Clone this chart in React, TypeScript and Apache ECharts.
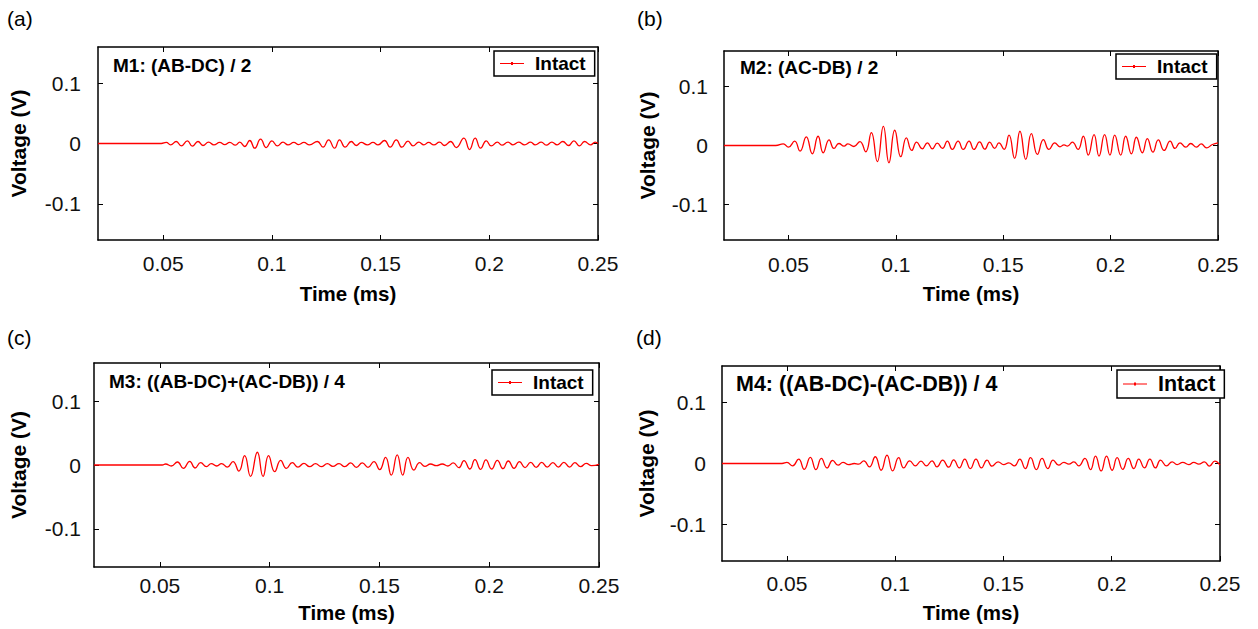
import React, { useEffect, useRef } from "react";
import * as echarts from "echarts";

// ---- Data (time in ms, voltage in V) ----
const TIME_TICKS = [0.05, 0.1, 0.15, 0.2, 0.25];
const VOLT_TICKS = [-0.1, 0, 0.1];
const PANEL_LETTERS = ["(a)", "(b)", "(c)", "(d)"];
const PANEL_TITLES = [
  "M1: (AB-DC) / 2",
  "M2: (AC-DB) / 2",
  "M3: ((AB-DC)+(AC-DB)) / 4",
  "M4: ((AB-DC)-(AC-DB)) / 4",
];
const SERIES_NAME = "Intact";

const M1_T = [0.02, 0.0491, 0.0514, 0.0534, 0.056, 0.0583, 0.0611, 0.0634, 0.066, 0.0683, 0.0709, 0.0733, 0.076, 0.0783, 0.0806, 0.0832, 0.0852, 0.0875, 0.0898, 0.0921, 0.0948, 0.0974, 0.1, 0.1025, 0.1051, 0.1074, 0.1101, 0.1123, 0.1147, 0.1173, 0.1209, 0.1235, 0.1261, 0.1288, 0.1311, 0.1337, 0.1365, 0.1388, 0.1411, 0.1439, 0.1465, 0.1488, 0.1518, 0.1544, 0.1572, 0.1598, 0.1626, 0.1649, 0.1676, 0.1699, 0.1721, 0.1745, 0.1771, 0.1794, 0.1822, 0.1848, 0.1883, 0.1909, 0.1935, 0.196, 0.1986, 0.2009, 0.2037, 0.2058, 0.2086, 0.2109, 0.2135, 0.2162, 0.219, 0.2211, 0.2239, 0.2262, 0.2288, 0.2312, 0.2338, 0.2365, 0.2389, 0.2415, 0.2438, 0.2466, 0.2487, 0.25];
const M1_V = [0, 0, 0.0017, -0.0022, 0.0033, -0.0039, 0.0044, -0.0044, 0.0033, -0.0033, 0.0022, -0.0022, 0.0017, -0.0017, 0.0017, -0.0028, 0.0022, -0.005, 0.005, -0.0078, 0.0072, -0.0067, 0.0044, -0.0039, 0.0022, -0.0022, 0.0017, -0.0017, 0.0017, -0.0022, 0.0033, -0.0061, 0.0061, -0.0078, 0.0061, -0.0061, 0.0033, -0.0033, 0.0017, -0.0022, 0.0017, -0.0022, 0.005, -0.0061, 0.0061, -0.0061, 0.0039, -0.0039, 0.0022, -0.0022, 0.0017, -0.0022, 0.0022, -0.0033, 0.0033, -0.0067, 0.0089, -0.01, 0.0089, -0.0078, 0.0044, -0.0039, 0.0022, -0.0028, 0.0022, -0.0022, 0.0022, -0.0022, 0.0022, -0.0022, 0.0022, -0.0028, 0.0022, -0.0022, 0.0033, -0.0033, 0.0044, -0.0039, 0.0033, -0.0022, 0.0022, 0];

const M2_T = [0.02, 0.0441, 0.0476, 0.05, 0.0529, 0.0554, 0.0583, 0.0611, 0.0638, 0.0662, 0.0689, 0.0712, 0.0735, 0.0759, 0.0777, 0.0805, 0.0833, 0.086, 0.0886, 0.0914, 0.0942, 0.0968, 0.0995, 0.1023, 0.1049, 0.1074, 0.1097, 0.1123, 0.1147, 0.117, 0.1193, 0.1217, 0.124, 0.1263, 0.129, 0.1314, 0.1341, 0.1364, 0.139, 0.1414, 0.1437, 0.146, 0.148, 0.1504, 0.1527, 0.1553, 0.1578, 0.1605, 0.1631, 0.1659, 0.1687, 0.1713, 0.174, 0.1764, 0.1783, 0.1799, 0.1822, 0.1848, 0.1873, 0.1896, 0.1923, 0.1946, 0.1972, 0.1997, 0.2019, 0.2047, 0.207, 0.2097, 0.212, 0.2148, 0.2171, 0.2197, 0.2222, 0.2249, 0.2277, 0.23, 0.2323, 0.235, 0.2373, 0.24, 0.2422, 0.2447, 0.2474, 0.25];
const M2_V = [0, 0, 0.0028, -0.0028, 0.0073, -0.0095, 0.0146, -0.014, 0.0157, -0.0123, 0.0095, -0.005, 0.0034, -0.0011, 0.0028, -0.0017, 0.0067, -0.0106, 0.0218, -0.0274, 0.0325, -0.0291, 0.0258, -0.019, 0.0129, -0.0084, 0.0056, -0.0056, 0.0045, -0.0056, 0.0039, -0.005, 0.0073, -0.0067, 0.0073, -0.0067, 0.0073, -0.0067, 0.0062, -0.0062, 0.0056, -0.005, 0.0045, -0.0067, 0.0174, -0.0218, 0.0241, -0.0235, 0.0202, -0.0151, 0.0101, -0.0067, 0.0045, -0.0022, 0.0011, -0.0011, 0.0056, -0.0067, 0.0157, -0.0162, 0.0185, -0.0179, 0.0185, -0.0162, 0.0174, -0.0162, 0.0157, -0.014, 0.014, -0.0123, 0.0118, -0.0112, 0.0095, -0.0084, 0.0073, -0.005, 0.0045, -0.0028, 0.0034, -0.0028, 0.0028, -0.0039, 0.0017, 0.0045];

const M3_T = [0.02, 0.0511, 0.0526, 0.0552, 0.058, 0.0607, 0.0636, 0.066, 0.0686, 0.0712, 0.0734, 0.0759, 0.0781, 0.0807, 0.0833, 0.086, 0.0886, 0.0913, 0.0944, 0.097, 0.0995, 0.1023, 0.105, 0.1076, 0.1103, 0.1129, 0.1156, 0.1182, 0.1209, 0.1235, 0.1263, 0.1288, 0.1316, 0.1342, 0.1369, 0.1395, 0.1422, 0.1448, 0.1475, 0.1501, 0.1528, 0.1554, 0.1581, 0.1606, 0.163, 0.1657, 0.1683, 0.1707, 0.1733, 0.1759, 0.1786, 0.1812, 0.1836, 0.1862, 0.1885, 0.1912, 0.1935, 0.1961, 0.1985, 0.2011, 0.2037, 0.2063, 0.2087, 0.2113, 0.2138, 0.2163, 0.2189, 0.2214, 0.2239, 0.2264, 0.229, 0.2315, 0.234, 0.2366, 0.239, 0.2416, 0.2442, 0.2466, 0.25];
const M3_V = [0, 0, 0.0016, -0.0016, 0.0047, -0.0053, 0.0058, -0.0047, 0.0037, -0.0026, 0.0021, -0.0016, 0.0021, -0.0032, 0.0053, -0.0095, 0.0147, -0.0179, 0.02, -0.0179, 0.0147, -0.0105, 0.0074, -0.0053, 0.0037, -0.0032, 0.0026, -0.0026, 0.0021, -0.0026, 0.0021, -0.0021, 0.0021, -0.0026, 0.0032, -0.0037, 0.0032, -0.0037, 0.0053, -0.0074, 0.0121, -0.0158, 0.0158, -0.0158, 0.0121, -0.0079, 0.0037, -0.0021, 0.0016, -0.0011, 0.0016, -0.0016, 0.0032, -0.0042, 0.0068, -0.0063, 0.0084, -0.0068, 0.0079, -0.0063, 0.0074, -0.0058, 0.0063, -0.0053, 0.0053, -0.0042, 0.0042, -0.0037, 0.0042, -0.0032, 0.0037, -0.0032, 0.0042, -0.0032, 0.0037, -0.0026, 0.0026, -0.0011, 0.0011];

const M4_T = [0.02, 0.0477, 0.05, 0.0526, 0.0554, 0.058, 0.0608, 0.0634, 0.0659, 0.0685, 0.0711, 0.0736, 0.0759, 0.0785, 0.0811, 0.0831, 0.0855, 0.0881, 0.0908, 0.0935, 0.0962, 0.0988, 0.1016, 0.1039, 0.1067, 0.1093, 0.1119, 0.1144, 0.117, 0.1193, 0.1219, 0.1247, 0.127, 0.1296, 0.1321, 0.1347, 0.1373, 0.1398, 0.1424, 0.1447, 0.1475, 0.1501, 0.1524, 0.1551, 0.1575, 0.1601, 0.1625, 0.1652, 0.1678, 0.1705, 0.1729, 0.1755, 0.1779, 0.1802, 0.1825, 0.1848, 0.1876, 0.1902, 0.1925, 0.1951, 0.1976, 0.2002, 0.2025, 0.2051, 0.2076, 0.2102, 0.2125, 0.2151, 0.2176, 0.2202, 0.2225, 0.2253, 0.2279, 0.2302, 0.2328, 0.2356, 0.2379, 0.2402, 0.2428, 0.2451, 0.2476, 0.25];
const M4_V = [0, 0, 0.0017, -0.0039, 0.0072, -0.0095, 0.01, -0.01, 0.0083, -0.0072, 0.005, -0.0028, 0.0017, -0.0017, 0, -0.0011, 0.0044, -0.0056, 0.0111, -0.0111, 0.0139, -0.0122, 0.0095, -0.0072, 0.0044, -0.0039, 0.0039, -0.0039, 0.0044, -0.0056, 0.0056, -0.0061, 0.0061, -0.0072, 0.0072, -0.0083, 0.0072, -0.0072, 0.0056, -0.0044, 0.0028, -0.0017, 0.0011, -0.0039, 0.0072, -0.0083, 0.0095, -0.01, 0.0083, -0.0083, 0.0056, -0.0028, 0.0017, -0.0011, 0.0028, -0.0039, 0.0083, -0.01, 0.0122, -0.0122, 0.0122, -0.0111, 0.0095, -0.0095, 0.0083, -0.0083, 0.0072, -0.0072, 0.0072, -0.0072, 0.0056, -0.0039, 0.0028, -0.0017, 0.0017, -0.0017, 0.0017, -0.0011, 0.0028, -0.0044, 0.0039, -0.0028];

const SERIES_T = [M1_T, M2_T, M3_T, M4_T];
const SERIES_V = [M1_V, M2_V, M3_V, M4_V];

// ---- Layout (pixels) ----
const FONT = "Liberation Sans, Arial, sans-serif";
const GRIDS = [
  { left: 98, top: 47, width: 500, height: 193 },
  { left: 724, top: 51, width: 494, height: 189 },
  { left: 94, top: 363, width: 505, height: 204 },
  { left: 722, top: 366, width: 498, height: 195 },
];
const LETTER_POS = [
  [7, 18],
  [637, 18],
  [7, 337],
  [636, 337],
];
const TITLE_POS = [
  { left: 113, top: 56, size: 19 },
  { left: 740, top: 58, size: 19 },
  { left: 109, top: 372, size: 19 },
  { left: 736, top: 373, size: 21.5 },
];
const LEGEND_POS = [
  { left: 494, top: 51, size: 19 },
  { left: 1116, top: 54, size: 19 },
  { left: 492, top: 370, size: 19 },
  { left: 1117, top: 370, size: 21.5 },
];
// legend sample: thin line with a small dot in the middle
const LEGEND_ICON = "path://M0,1.5 L24,1.5 L24,2.5 L0,2.5 Z M11,0.5 L13,0.5 L13,3.5 L11,3.5 Z";
const X_LABEL_MARGIN = [13, 14, 8, 12];
const X_NAME_GAP = [43, 43, 35, 41];
const Y_LABEL_MARGIN = [17, 16, 13, 16];
const Y_NAME_GAP = [69, 66, 65, 65];

export default function App() {
  const ref = useRef<HTMLDivElement>(null);

  useEffect(() => {
    if (!ref.current) return;
    const chart = echarts.init(ref.current, undefined, { renderer: "svg" });

    const axisLine = { show: true, onZero: false, lineStyle: { color: "#000", width: 1.5 } };
    const tick = (vals: number[]) => ({
      show: true,
      inside: true,
      length: 5,
      customValues: vals,
      lineStyle: { color: "#000", width: 1 },
    });

    const xAxes: any[] = [];
    const yAxes: any[] = [];
    GRIDS.forEach((_, i) => {
      xAxes.push({
        type: "value",
        gridIndex: i,
        position: "bottom",
        min: 0.02,
        max: 0.25,
        name: "Time (ms)",
        nameLocation: "middle",
        nameGap: X_NAME_GAP[i],
        nameTextStyle: { fontFamily: FONT, fontSize: 20.5, fontWeight: "bold", color: "#000" },
        axisLine,
        axisTick: tick(TIME_TICKS),
        axisLabel: {
          customValues: TIME_TICKS,
          margin: X_LABEL_MARGIN[i],
          fontFamily: FONT,
          fontSize: 21,
          color: "#111",
          showMinLabel: true,
          showMaxLabel: true,
        },
        splitLine: { show: false },
      });
      xAxes.push({
        type: "value",
        gridIndex: i,
        position: "top",
        min: 0.02,
        max: 0.25,
        axisLine,
        axisTick: tick(TIME_TICKS),
        axisLabel: { show: false },
        splitLine: { show: false },
      });
      yAxes.push({
        type: "value",
        gridIndex: i,
        position: "left",
        min: -0.16,
        max: 0.16,
        name: "Voltage (V)",
        nameLocation: "middle",
        nameGap: Y_NAME_GAP[i],
        nameRotate: 90,
        nameTextStyle: { fontFamily: FONT, fontSize: 21, fontWeight: "bold", color: "#000" },
        axisLine,
        axisTick: tick(VOLT_TICKS),
        axisLabel: {
          customValues: VOLT_TICKS,
          margin: Y_LABEL_MARGIN[i],
          fontFamily: FONT,
          fontSize: 21,
          color: "#111",
        },
        splitLine: { show: false },
      });
      yAxes.push({
        type: "value",
        gridIndex: i,
        position: "right",
        min: -0.16,
        max: 0.16,
        axisLine,
        axisTick: tick(VOLT_TICKS),
        axisLabel: { show: false },
        splitLine: { show: false },
      });
    });

    const series = SERIES_T.map((ts, i) => ({
      type: "line",
      name: SERIES_NAME,
      xAxisIndex: i * 2,
      yAxisIndex: i * 2,
      data: ts.map((t, k) => [t, SERIES_V[i][k]]),
      smooth: 0.5,
      symbol: "none",
      lineStyle: { color: "#ff0000", width: 1.3 },
      itemStyle: { color: "#ff0000" },
      clip: true,
    }));

    const legends = LEGEND_POS.map((p) => ({
      data: [{ name: SERIES_NAME, icon: LEGEND_ICON }],
      left: p.left,
      top: p.top,
      orient: "horizontal",
      borderColor: "#000",
      borderWidth: 1.5,
      borderRadius: 0,
      backgroundColor: "#fff",
      padding: [3, 9, 3, 6],
      itemWidth: 24,
      itemHeight: 4,
      itemGap: 0,
      itemStyle: { color: "#ff0000", borderWidth: 0 },
      lineStyle: { width: 0 },
      textStyle: { fontFamily: FONT, fontSize: p.size, fontWeight: "bold", color: "#000", padding: [0, 0, 0, 6] },
      selectedMode: false,
    }));

    const titles = TITLE_POS.map((p, i) => ({
      text: PANEL_TITLES[i],
      left: p.left,
      top: p.top,
      padding: 0,
      textStyle: { fontFamily: FONT, fontSize: p.size, fontWeight: "bold", color: "#000" },
    }));

    const graphic = PANEL_LETTERS.map((s, i) => ({
      type: "text",
      x: LETTER_POS[i][0],
      y: LETTER_POS[i][1],
      style: {
        text: s,
        font: `21px ${FONT}`,
        fill: "#000",
        textVerticalAlign: "middle",
      },
    }));

    chart.setOption({
      animation: false,
      backgroundColor: "#fff",
      title: titles,
      legend: legends,
      grid: GRIDS.map((g) => ({ ...g, containLabel: false })),
      xAxis: xAxes,
      yAxis: yAxes,
      series,
      graphic,
    });

    return () => chart.dispose();
  }, []);

  return (
    <div
      ref={ref}
      style={{ position: "absolute", left: 0, top: 0, width: 1258, height: 629 }}
    />
  );
}
